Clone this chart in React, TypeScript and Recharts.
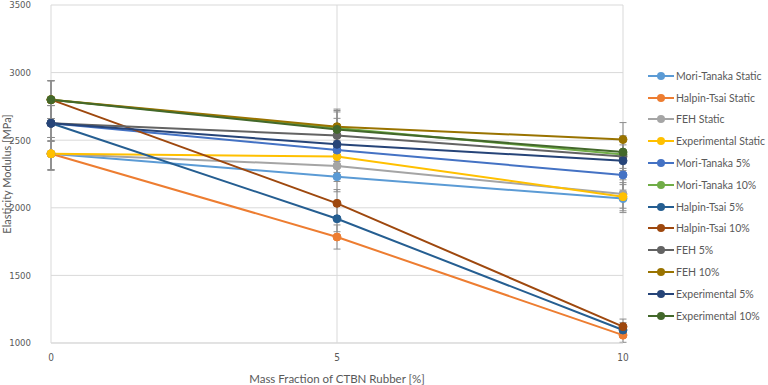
import { LineChart, Line, XAxis, YAxis, CartesianGrid, ErrorBar } from 'recharts';

// rubber mass fraction [%]
const FRACTIONS = [0, 5, 10];

// elasticity modulus [MPa] per model / test series
const MORI_TANAKA_STATIC = [2400, 2230, 2068];
const HALPIN_TSAI_STATIC = [2400, 1784, 1058];
const FEH_STATIC = [2400, 2310, 2102];
const EXPERIMENTAL_STATIC = [2400, 2380, 2082];
const MORI_TANAKA_5 = [2625, 2427, 2243];
const MORI_TANAKA_10 = [2800, 2590, 2395];
const HALPIN_TSAI_5 = [2625, 1919, 1096];
const HALPIN_TSAI_10 = [2800, 2033, 1121];
const FEH_5 = [2625, 2535, 2380];
const FEH_10 = [2800, 2600, 2505];
const EXPERIMENTAL_5 = [2625, 2470, 2348];
const EXPERIMENTAL_10 = [2800, 2580, 2412];

// percentage error bars, as set on every series
const ERROR_PCT = 0.05;

const Y_TICKS = [1000, 1500, 2000, 2500, 3000, 3500];
const X_TICKS = [0, 5, 10];

const SERIES = [
  { key: 'Mori-Tanaka Static', values: MORI_TANAKA_STATIC, color: '#5B9BD5' },
  { key: 'Halpin-Tsai Static', values: HALPIN_TSAI_STATIC, color: '#ED7D31' },
  { key: 'FEH Static', values: FEH_STATIC, color: '#A5A5A5' },
  { key: 'Experimental Static', values: EXPERIMENTAL_STATIC, color: '#FFC000' },
  { key: 'Mori-Tanaka 5%', values: MORI_TANAKA_5, color: '#4472C4' },
  { key: 'Mori-Tanaka 10%', values: MORI_TANAKA_10, color: '#70AD47' },
  { key: 'Halpin-Tsai 5%', values: HALPIN_TSAI_5, color: '#255E91' },
  { key: 'Halpin-Tsai 10%', values: HALPIN_TSAI_10, color: '#9E480E' },
  { key: 'FEH 5%', values: FEH_5, color: '#636363' },
  { key: 'FEH 10%', values: FEH_10, color: '#997300' },
  { key: 'Experimental 5%', values: EXPERIMENTAL_5, color: '#264478' },
  { key: 'Experimental 10%', values: EXPERIMENTAL_10, color: '#43682B' },
];

const chartData = FRACTIONS.map((x, i) => {
  const row: Record<string, number> = { x };
  SERIES.forEach(s => {
    row[s.key] = s.values[i];
  });
  return row;
});

const TEXT = '#595959';
const GRID = '#D9D9D9';
const FONT = 'Lato, "Open Sans", sans-serif';
const NARROW = '"Liberation Sans Narrow", "DejaVu Sans Condensed", Lato, sans-serif';

const YTitle = ({ viewBox }: any) => {
  const cy = viewBox.y + viewBox.height / 2;
  return (
    <text
      x={6.5}
      y={cy}
      transform={`rotate(-90, 6.5, ${cy})`}
      textAnchor="middle"
      dominantBaseline="central"
      fill={TEXT}
      fontSize={11}
      fontFamily={FONT}
    >
      Elasticity Modulus [MPa]
    </text>
  );
};

const ChartLegend = () => (
  <div style={{ position: 'absolute', left: 648, top: 65, fontFamily: FONT }}>
    {SERIES.map(s => (
      <div
        key={s.key}
        style={{ display: 'flex', alignItems: 'center', height: 21.8 }}
      >
        <svg width={28} height={10}>
          <line x1={0} y1={5} x2={26} y2={5} stroke={s.color} strokeWidth={2} />
          <circle cx={13} cy={5} r={4} fill={s.color} />
        </svg>
        <span style={{ fontSize: 10.5, color: TEXT, whiteSpace: 'nowrap' }}>{s.key}</span>
      </div>
    ))}
  </div>
);

export default function App() {
  return (
    <div style={{ position: 'absolute', left: 0, top: 0, width: 768, height: 385, background: '#fff' }}>
      <LineChart
        width={768}
        height={385}
        data={chartData}
        margin={{ top: 5, right: 145, bottom: 0, left: 0 }}
      >
        <CartesianGrid stroke={GRID} strokeWidth={1} />
        <XAxis
          dataKey="x"
          type="number"
          domain={[0, 10]}
          ticks={X_TICKS}
          height={42}
          stroke={GRID}
          tickLine={false}
          tickSize={0}
          tickMargin={11}
          tick={{ fill: TEXT, fontSize: 10, fontFamily: NARROW }}
          label={{
            value: 'Mass Fraction of CTBN Rubber [%]',
            position: 'insideBottom',
            offset: 2,
            fill: TEXT,
            fontSize: 11.5,
            fontFamily: FONT,
          }}
        />
        <YAxis
          type="number"
          domain={[1000, 3500]}
          ticks={Y_TICKS}
          width={51}
          axisLine={false}
          tickLine={false}
          tickSize={0}
          tickMargin={20}
          tick={{ fill: TEXT, fontSize: 9.5, fontFamily: NARROW }}
          label={<YTitle />}
        />
        {SERIES.map(s => (
          <Line
            key={s.key}
            dataKey={s.key}
            stroke={s.color}
            strokeWidth={2}
            dot={{ r: 4, fill: s.color, stroke: s.color, strokeWidth: 1 }}
            isAnimationActive={false}
          >
            <ErrorBar
              dataKey={(d: any) => d[s.key] * ERROR_PCT}
              direction="y"
              width={3.5}
              stroke="#8C8C8C"
              strokeWidth={1}
            />
          </Line>
        ))}
      </LineChart>
      <ChartLegend />
    </div>
  );
}
